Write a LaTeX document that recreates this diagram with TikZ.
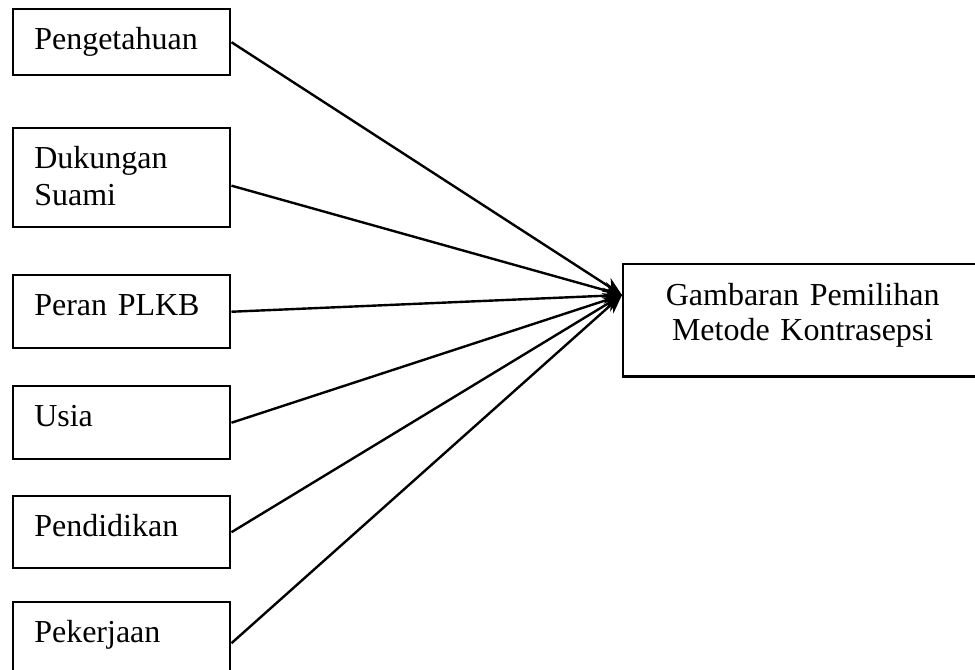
\documentclass[tikz,border=0pt]{standalone}
\usepackage{fontspec}
\setmainfont{Liberation Serif}
\usetikzlibrary{arrows.meta}

\tikzset{
    faktor/.style={draw, line width=0.9pt, anchor=north west, align=left,
        text width=65.6pt, inner xsep=7.9pt, inner ysep=0pt, text height=15pt,
        font=\fontsize{12}{14}\selectfont},
    hasil/.style={draw, line width=0.9pt, anchor=north west, align=center,
        text width=134.6pt, inner xsep=0pt, inner ysep=0pt, text height=15.5pt,
        font=\fontsize{12}{13.2}\selectfont},
    panah/.style={line width=0.9pt, -{Stealth[length=7pt,width=6pt]}}
}

\begin{document}
\begin{tikzpicture}[x=0.375pt, y=-0.375pt]
        \useasboundingbox (0,0) rectangle (975,670);

        % Left column of factors
        \node[faktor, text depth=9.75pt] (pengetahuan) at (12,8) {Pengetahuan};
        \node[faktor, text depth=22.1pt] (dukungan) at (12,127) {Dukungan\\Suami};
        \node[faktor, text depth=12.4pt] (peran) at (12,274) {Peran PLKB};
        \node[faktor, text depth=12.4pt] (usia) at (12,385) {Usia};
        \node[faktor, text depth=12pt] (pendidikan) at (12,495) {Pendidikan};
        \node[faktor, text depth=15.75pt] (pekerjaan) at (12,601) {Pekerjaan};

        % Outcome box on the right
        \node[hasil, text depth=26.6pt] (gambaran) at (622,263) {Gambaran Pemilihan\\Metode Kontrasepsi};
        \coordinate (tip) at ([yshift=9.5pt]gambaran.west);

        % All arrows meet at one tip
        \draw[panah] (pengetahuan.east) -- (tip);
        \draw[panah] ([yshift=-3pt]dukungan.east) -- (tip);
        \draw[panah] (peran.east) -- (tip);
        \draw[panah] (usia.east) -- (tip);
        \draw[panah] (pendidikan.east) -- (tip);
        \draw[panah] (pekerjaan.east) -- (tip);
    \end{tikzpicture}
\end{document}
